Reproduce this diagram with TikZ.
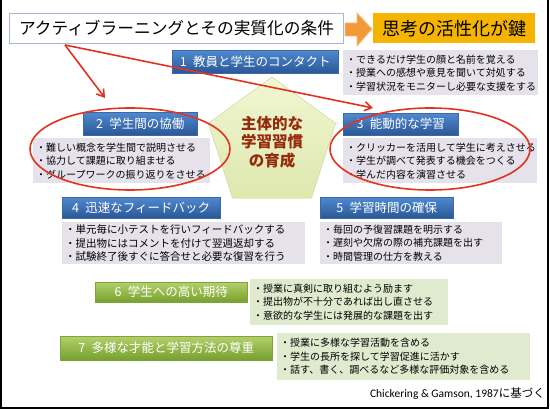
\documentclass[tikz,border=0pt]{standalone}
\usepackage{fontspec}
\setmainfont{Noto Sans CJK JP}
\newfontfamily\carlito{Carlito}
\usetikzlibrary{shapes.geometric,shadows,arrows.meta,calc}
\definecolor{blueT}{HTML}{5089CF}
\definecolor{blueD}{HTML}{2A5796}
\definecolor{blueB}{HTML}{3A69A8}
\definecolor{greenT}{HTML}{B2D06A}
\definecolor{greenD}{HTML}{76A02E}
\definecolor{greenB}{HTML}{7FA53A}
\definecolor{lav}{HTML}{E6E2EB}
\definecolor{lgreen}{HTML}{E0EACF}
\definecolor{redl}{HTML}{E3321F}
\definecolor{pentT}{HTML}{F2F6D2}
\definecolor{pentD}{HTML}{DDE8AE}
\definecolor{pentB}{HTML}{C6D69A}
\definecolor{penttext}{HTML}{962A0C}
\definecolor{gold}{HTML}{F5B400}
\definecolor{orangeA}{HTML}{F39A38}
\definecolor{orangeB}{HTML}{F6BE86}
\definecolor{titleB}{HTML}{A6B6D6}
\tikzset{
  hdr/.style={anchor=north west, inner sep=0pt, text=white,
    font=\fontsize{12.5}{14}\selectfont,
    drop shadow={shadow xshift=1.2pt, shadow yshift=-1.2pt, opacity=0.35}},
  hdrblue/.style={hdr, draw=blueB, top color=blueT, bottom color=blueD},
  hdrgreen/.style={hdr, draw=greenB, top color=greenT, bottom color=greenD},
  bul/.style={anchor=north west, inner sep=0pt, align=left,
    font=\fontsize{10}{13.5}\selectfont},
  bullav/.style={bul, fill=lav},
  bulgreen/.style={bul, fill=lgreen},
  redline/.style={draw=redl, line width=1.6pt},
  redarrow/.style={redline, -{Straight Barb[length=7pt,width=9pt,line width=1.6pt]}},
}
\begin{document}
\begin{tikzpicture}[x=1pt,y=-1pt]
\useasboundingbox (0,0) rectangle (550,409);
\fill[white] (0,0) rectangle (550,409);
\draw[black, line width=2pt] (1,0) -- (1,408) -- (548,408) -- (548,0);

% title
\node[anchor=north west, draw=titleB, line width=1pt, fill=white, minimum width=334pt, minimum height=30pt, inner sep=0pt,
  font=\fontsize{16.7}{18}\selectfont] (title) at (9,13) {アクティブラーニングとその実質化の条件};
% orange arrow
\coordinate (oa1) at (345,23);
\filldraw[draw=orangeB, fill=orangeA, line width=0.8pt] (oa1) -- (357,23) -- (357,13) -- (372,29) -- (357,46) -- (357,36) -- (345,36) -- cycle;
\node[anchor=north west, fill=gold, minimum width=162pt, minimum height=30pt, inner sep=0pt,
  font=\fontsize{18}{20}\selectfont] (key) at (373,13) {思考の活性化が鍵};

% pentagon
\node[regular polygon, regular polygon sides=5, minimum size=134pt, inner sep=0pt,
  draw=pentB, top color=pentT, bottom color=pentD] (pent) at (272,144) {};
\node[align=center, text=penttext, font=\bfseries\fontsize{15.5}{18.5}\selectfont] (ptext) at (272,142) {主体的な\\学習習慣\\の育成};

% 1
\node[hdrblue, minimum width=166pt, minimum height=23pt] (h1) at (172,50) {1\hspace{0.5em}教員と学生のコンタクト};
\node[bullav, minimum width=195pt, minimum height=45pt, text width=189pt, inner xsep=3pt] (b1) at (343,50)
 {・できるだけ学生の顔と名前を覚える\\・授業への感想や意見を聞いて対処する\\・学習状況をモニターし必要な支援をする};

% 2
\node[hdrblue, minimum width=114pt, minimum height=23pt] (h2) at (83,112) {2\hspace{0.5em}学生間の協働};
\node[bullav, minimum width=177pt, minimum height=45pt, text width=171pt, inner xsep=3pt] (b2) at (33,138)
 {・難しい概念を学生間で説明させる\\・協力して課題に取り組ませる\\・グループワークの振り返りをさせる};

% 3
\node[hdrblue, minimum width=115pt, minimum height=22pt] (h3) at (343,113) {3\hspace{0.5em}能動的な学習};
\node[bullav, minimum width=194pt, minimum height=45pt, text width=188pt, inner xsep=3pt] (b3) at (343,138)
 {・クリッカーを活用して学生に考えさせる\\・学生が調べて発表する機会をつくる\\・学んだ内容を演習させる};

% 4
\node[hdrblue, minimum width=158pt, minimum height=21pt] (h4) at (62,197) {4\hspace{0.5em}迅速なフィードバック};
\node[bullav, minimum width=243pt, minimum height=42pt, text width=237pt, inner xsep=3pt,
  font=\fontsize{10.5}{13.5}\selectfont] (b4) at (62,222)
 {・単元毎に小テストを行いフィードバックする\\・提出物にはコメントを付けて翌週返却する\\・試験終了後すぐに答合せと必要な復習を行う};

% 5
\node[hdrblue, minimum width=133pt, minimum height=21pt] (h5) at (320,197) {5\hspace{0.5em}学習時間の確保};
\node[bullav, minimum width=182pt, minimum height=42pt, text width=176pt, inner xsep=3pt] (b5) at (320,222)
 {・毎回の予復習課題を明示する\\・遅刻や欠席の際の補充課題を出す\\・時間管理の仕方を教える};

% 6
\node[hdrgreen, minimum width=152pt, minimum height=20pt] (h6) at (95,282) {6\hspace{0.5em}学生への高い期待};
\node[bulgreen, minimum width=198pt, minimum height=46pt, text width=192pt, inner xsep=3pt] (b6) at (250,279)
 {・授業に真剣に取り組むよう励ます\\・提出物が不十分であれば出し直させる\\・意欲的な学生には発展的な課題を出す};

% 7
\node[hdrgreen, minimum width=212pt, minimum height=24pt] (h7) at (60,336) {7\hspace{0.5em}多様な才能と学習方法の尊重};
\node[bulgreen, minimum width=253pt, minimum height=47pt, text width=247pt, inner xsep=3pt] (b7) at (277,333)
 {・授業に多様な学習活動を含める\\・学生の長所を探して学習促進に活かす\\・話す、書く、調べるなど多様な評価対象を含める};

% footer
\node[anchor=east, inner sep=0pt, font=\fontsize{11.5}{13}\selectfont] (foot) at (545,394) {{\carlito Chickering \& Gamson, 1987}に基づく};

% red ellipses and arrows
\node[ellipse, redline, minimum width=200pt, minimum height=82pt, inner sep=0pt] (e2) at (130,149) {};
\node[ellipse, redline, minimum width=200pt, minimum height=82pt, inner sep=0pt] (e3) at (430,149) {};
\coordinate (a0) at (65,45);
\coordinate (t2) at (105,98);
\coordinate (t3) at (373,108);
\draw[redarrow] (a0) -- (t2);
\draw[redarrow] (a0) -- (t3);
\end{tikzpicture}
\end{document}
